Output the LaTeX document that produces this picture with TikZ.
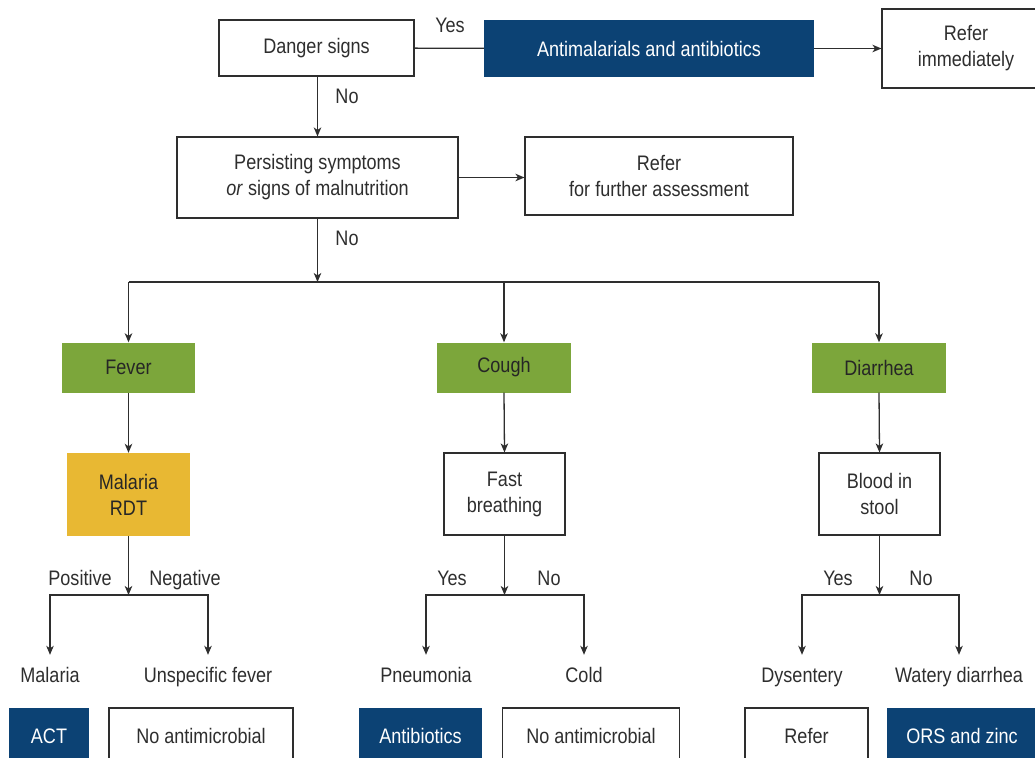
\documentclass[tikz,border=0pt]{standalone}
\usepackage{fontspec}
\setmainfont{Liberation Sans}[FakeStretch=0.86]
\usetikzlibrary{arrows.meta}
\definecolor{navy}{HTML}{0C4274}
\definecolor{leaf}{HTML}{7CA63B}
\definecolor{gold}{HTML}{E8B833}
\definecolor{ink}{HTML}{2E2E2E}
\begin{document}
\begin{tikzpicture}[x=1pt,y=-1pt,
  every node/.style={font=\fontsize{21}{26}\selectfont, text=ink, align=center, inner sep=0pt},
  box/.style={draw=ink, line width=1.1pt, fill=white, rectangle},
  bluebox/.style={fill=navy, rectangle, text=white},
  greenbox/.style={fill=leaf, rectangle, text=black!85},
  goldbox/.style={fill=gold, rectangle, text=black!85},
  lbl/.style={anchor=base},
  outcome/.style={anchor=base, text height=15pt, text depth=4pt, inner ysep=12pt},
  conn/.style={draw=ink, line width=1.3pt},
  arr/.style={conn, -{Stealth[length=9pt,width=7.5pt,inset=2.5pt]}}
]
\useasboundingbox (0,0) rectangle (1035,757);

% top row
\node[box, minimum width=195pt, minimum height=56pt] (danger) at (316.5,48) {Danger signs};
\node[bluebox, minimum width=330pt, minimum height=57pt] (anti) at (649,48.5) {Antimalarials and antibiotics};
\node[box, minimum width=168pt, minimum height=79pt] (referi) at (966,48.5) {Refer\\immediately};
\node[lbl] (yes0) at (450,33) {Yes};
\draw[conn] (danger) -- (anti);
\draw[arr] (anti) -- (referi);

% persisting
\node[lbl] (no0) at (347,103) {No};
\node[box, minimum width=281pt, minimum height=81pt] (persist) at (317.5,177.5) {Persisting symptoms\\\textit{or} signs of malnutrition};
\node[box, minimum width=268pt, minimum height=78pt] (referf) at (659,176) {Refer\\for further assessment};
\draw[arr] (danger.south -| persist.north) -- (persist.north);
\draw[arr] (persist.east) -- (persist.east -| referf.west);

% hub
\node[lbl] (no1) at (347,245) {No};
\coordinate (hub) at (317.5,282);
\coordinate (hubL) at (128.5,282);
\coordinate (hubM) at (504,282);
\coordinate (hubR) at (879,282);
\draw[arr] (persist.south) -- (hub);
\draw[conn] (hubL) -- (hubR);

% symptoms
\node[greenbox, minimum width=133pt, minimum height=50pt] (fever) at (128.5,367.5) {Fever};
\node[greenbox, minimum width=134pt, minimum height=50pt] (cough) at (504,367.5) {Cough};
\node[greenbox, minimum width=134pt, minimum height=50pt] (diar) at (879,367.5) {Diarrhea};
\draw[arr] (hubL) -- (fever.north);
\draw[arr] (hubM) -- (cough.north);
\draw[arr] (hubR) -- (diar.north);

% tests
\node[goldbox, minimum width=123pt, minimum height=83pt] (rdt) at (128.5,494.5) {Malaria\\RDT};
\node[box, minimum width=121pt, minimum height=82pt] (fast) at (504.5,494) {Fast\\breathing};
\node[box, minimum width=121pt, minimum height=82pt] (blood) at (879.5,494) {Blood in\\stool};
\draw[arr] (fever.south) -- (rdt.north);
\draw[arr] (cough.south) -- (fast.north);
\draw[arr] (diar.south) -- (blood.north);

% branch junctions
\coordinate (j1) at (128.5,595);
\coordinate (j2) at (504.5,595);
\coordinate (j3) at (879.5,595);
\draw[arr] (rdt.south) -- (j1);
\draw[arr] (fast.south) -- (j2);
\draw[arr] (blood.south) -- (j3);

\node[lbl] (pos) at (80,585) {Positive};
\node[lbl] (neg) at (185,585) {Negative};
\node[lbl] (yes1) at (452,585) {Yes};
\node[lbl] (no2) at (549,585) {No};
\node[lbl] (yes2) at (838,585) {Yes};
\node[lbl] (no3) at (921,585) {No};

% outcomes
\node[outcome] (mal) at (50,682) {Malaria};
\node[outcome] (unsp) at (208,682) {Unspecific fever};
\node[outcome] (pneu) at (426,682) {Pneumonia};
\node[outcome] (cold) at (584,682) {Cold};
\node[outcome] (dys) at (802,682) {Dysentery};
\node[outcome] (wat) at (959,682) {Watery diarrhea};

\draw[arr] (j1) -| (mal.north);
\draw[arr] (j1) -| (unsp.north);
\draw[arr] (j2) -| (pneu.north);
\draw[arr] (j2) -| (cold.north);
\draw[arr] (j3) -| (dys.north);
\draw[arr] (j3) -| (wat.north);

% treatments
\node[bluebox, minimum width=80pt, minimum height=56pt] (act) at (49,736) {ACT};
\node[box, minimum width=184pt, minimum height=56pt] (noam1) at (201,736) {No antimicrobial};
\node[bluebox, minimum width=123pt, minimum height=56pt] (abx) at (420.5,736) {Antibiotics};
\node[box, minimum width=177pt, minimum height=56pt] (noam2) at (591,736) {No antimicrobial};
\node[box, minimum width=123pt, minimum height=56pt] (refer) at (806.5,736) {Refer};
\node[bluebox, minimum width=150pt, minimum height=56pt] (ors) at (962,736) {ORS and zinc};
\end{tikzpicture}
\end{document}
